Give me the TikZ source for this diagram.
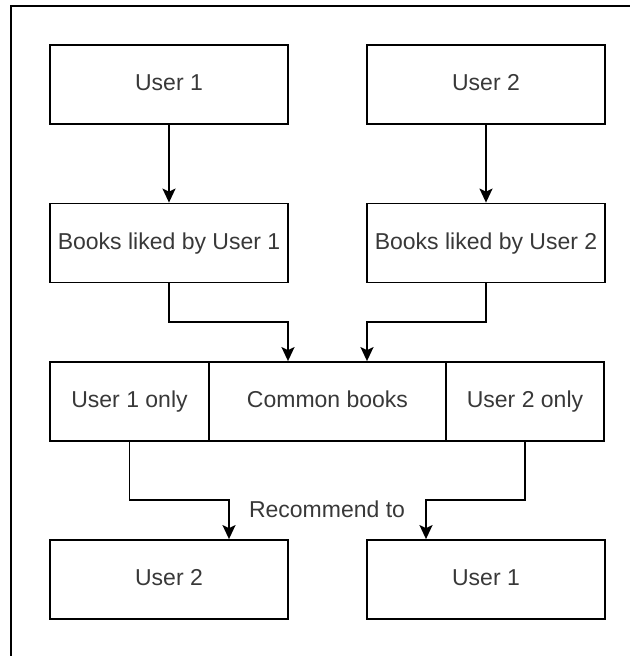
\documentclass[tikz,border=0pt]{standalone}
\usepackage{fontspec}
\setmainfont{Liberation Sans}
\usetikzlibrary{arrows.meta}
\begin{document}
\begin{tikzpicture}[x=1pt,y=-1pt,
  box/.style={draw=black, line width=1.8pt, minimum height=79pt, inner sep=0pt,
    text height=16.5pt, text depth=4.5pt,
    text=black!78, font=\fontsize{23}{27}\selectfont},
  arr/.style={draw=black, line width=1.8pt,
    -{Stealth[length=14pt,width=13pt,inset=3pt]}},
  frame/.style={draw=black, line width=1.8pt}
]
\useasboundingbox (0,0) rectangle (630,656);
\begin{scope}
\clip (0,0) rectangle (630,656);
\draw[frame] (11,656) -- (11,6) -- (630,6);
\end{scope}

\node[box, minimum width=238pt] (u1) at (169,84.5) {User 1};
\node[box, minimum width=238pt] (u2) at (486,84.5) {User 2};
\node[box, minimum width=238pt] (b1) at (169,243) {Books liked by User 1};
\node[box, minimum width=238pt] (b2) at (486,243) {Books liked by User 2};

\node[box, minimum width=159pt] (only1) at (129.5,401.5) {User 1 only};
\node[box, minimum width=237pt] (common) at (327.5,401.5) {Common books};
\node[box, minimum width=158pt] (only2) at (525,401.5) {User 2 only};

\node[box, minimum width=238pt] (r2) at (169,579.5) {User 2};
\node[box, minimum width=238pt] (r1) at (486,579.5) {User 1};

\coordinate (j1) at (288,322);
\coordinate (j2) at (367,322);
\coordinate (j3) at (229,500);
\coordinate (j4) at (426,500);

\draw[arr] (u1) -- (b1);
\draw[arr] (u2) -- (b2);
\draw[arr] (b1.south) |- (j1) -- (j1 |- common.north);
\draw[arr] (b2.south) |- (j2) -- (j2 |- common.north);
\draw[arr] (only1.south) |- (j3) -- (j3 |- r2.north);
\draw[arr] (only2.south) |- (j4) -- (j4 |- r1.north);

\node[text=black!78, font=\fontsize{23}{27}\selectfont, inner sep=0pt] (rec) at (327,509) {Recommend to};
\end{tikzpicture}
\end{document}
